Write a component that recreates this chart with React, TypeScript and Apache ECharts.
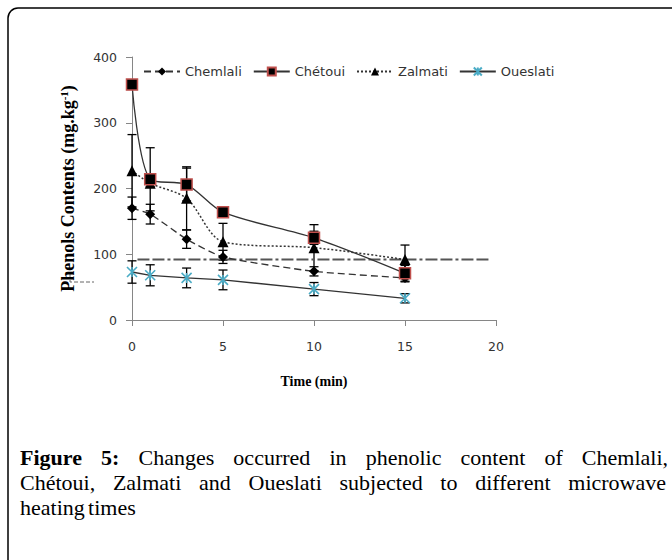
import React, { useEffect, useRef } from "react";
import * as echarts from "echarts";

const times = [0, 1, 3, 5, 10, 15];
const chemlali = [170, 161, 123, 96, 74, 64];
const chemlaliErr = [17, 15, 14, 10, 7, 6];
const chetoui = [358, 214, 206, 164, 125, 71];
const chetouiErr = [5, 48, 25, 5, 10, 12];
const zalmati = [227, 208, 185, 119, 110, 92];
const zalmatiErr = [55, 5, 48, 28, 35, 22];
const oueslati = [73, 68, 64, 61, 47, 33];
const oueslatiErr = [17, 16, 15, 15, 10, 7];
const trendLine = [[0.3, 92], [19.6, 92]];
const xTicks = { min: 0, max: 20, interval: 5 };
const yTicks = { min: 0, max: 400, interval: 100 };
const seriesNames = ["Chemlali", "Chétoui", "Zalmati", "Oueslati"];
const captionLines = [
  [["Figure", true], ["5:", true], ["Changes", false], ["occurred", false], ["in", false], ["phenolic", false], ["content", false], ["of", false], ["Chemlali,", false]],
  [["Chétoui,", false], ["Zalmati", false], ["and", false], ["Oueslati", false], ["subjected", false], ["to", false], ["different", false], ["microwave", false]],
  [["heating", false], ["times", false]],
];

const LINE = "#333";

function pts(vals: number[]) {
  return times.map((t, i) => [t, vals[i]]);
}
function errs(vals: number[], e: number[]) {
  return times.map((t, i) => [t, vals[i] - e[i], vals[i] + e[i]]);
}

function errorSeries(data: number[][]) {
  return {
    type: "custom",
    silent: true,
    z: 1,
    encode: { x: 0, y: [1, 2] },
    data,
    renderItem: (_p: any, api: any) => {
      const lo = api.coord([api.value(0), api.value(1)]);
      const hi = api.coord([api.value(0), api.value(2)]);
      const w = 4.5;
      const st = { stroke: "#000", lineWidth: 1.3 };
      return {
        type: "group",
        children: [
          { type: "line", shape: { x1: lo[0], y1: lo[1], x2: hi[0], y2: hi[1] }, style: st },
          { type: "line", shape: { x1: lo[0] - w, y1: lo[1], x2: lo[0] + w, y2: lo[1] }, style: st },
          { type: "line", shape: { x1: hi[0] - w, y1: hi[1], x2: hi[0] + w, y2: hi[1] }, style: st },
        ],
      };
    },
  };
}

function captionGraphics() {
  const canvas = document.createElement("canvas");
  const ctx = canvas.getContext("2d")!;
  const fs = 22;
  const fam = "Liberation Serif";
  const measure = (t: string, b: boolean) => {
    ctx.font = `${b ? "bold " : ""}${fs}px "${fam}"`;
    return ctx.measureText(t).width;
  };
  const left = 20;
  const rights = [668, 666, null];
  const ys = [457, 482, 507];
  const els: any[] = [];
  captionLines.forEach((words, li) => {
    const widths = words.map(([t, b]) => measure(t as string, b as boolean));
    const total = widths.reduce((a, b) => a + b, 0);
    const right = rights[li];
    const gap = right == null ? measure(" ", false) * 0.6 : (right - left - total) / (words.length - 1);
    let x = left;
    words.forEach(([t, b], wi) => {
      els.push({
        type: "text",
        x,
        y: ys[li],
        style: {
          text: t,
          fontSize: fs,
          fontFamily: fam,
          fontWeight: b ? "bold" : "normal",
          fill: "#000",
          verticalAlign: "middle",
        },
      });
      x += widths[wi] + gap;
    });
  });
  return els;
}

export default function App() {
  const ref = useRef<HTMLDivElement>(null);
  useEffect(() => {
    const chart = echarts.init(ref.current!, null, { renderer: "svg" });
    const sansFont = "DejaVu Sans";
    const option: any = {
      animation: false,
      backgroundColor: "#fff",
      grid: { left: 132, right: 176, top: 57, bottom: 240 },
      legend: {
        data: seriesNames,
        left: 138,
        top: 60,
        itemWidth: 36,
        itemHeight: 10,
        itemGap: 11,
        textStyle: { fontFamily: sansFont, fontSize: 13, color: "#333" },
      },
      xAxis: {
        type: "value",
        ...xTicks,
        name: "Time (min)",
        nameLocation: "middle",
        nameGap: 54,
        nameTextStyle: { fontFamily: "Liberation Serif", fontWeight: "bold", fontSize: 14, color: "#000" },
        splitLine: { show: false },
        axisLine: { lineStyle: { color: "#868686" } },
        axisTick: { length: 6, lineStyle: { color: "#868686" } },
        axisLabel: { margin: 20, fontFamily: sansFont, fontSize: 12.5, color: "#333" },
      },
      yAxis: {
        type: "value",
        ...yTicks,
        name: "{a|Phenols Contents (mg.kg}{s|-1}{a|)}",
        nameLocation: "middle",
        nameGap: 55,
        nameTextStyle: {
          rich: {
            a: { fontFamily: "Liberation Serif", fontWeight: "bold", fontSize: 18, color: "#000" },
            s: { fontFamily: "Liberation Serif", fontWeight: "bold", fontSize: 11, color: "#000", verticalAlign: "top", padding: [0, 0, 8, 0] },
          },
        },
        splitLine: { show: false },
        axisLine: { show: true, lineStyle: { color: "#868686" } },
        axisTick: { show: true, length: 6, lineStyle: { color: "#868686" } },
        axisLabel: { margin: 15, fontFamily: sansFont, fontSize: 12.5, color: "#333" },
      },
      series: [
        {
          type: "line",
          name: "trend",
          data: trendLine,
          symbol: "none",
          silent: true,
          z: 1,
          lineStyle: { color: "#555", width: 2, type: [12, 3, 12, 3, 3, 3] },
        },
        errorSeries(errs(chemlali, chemlaliErr)),
        errorSeries(errs(chetoui, chetouiErr)),
        errorSeries(errs(zalmati, zalmatiErr)),
        errorSeries(errs(oueslati, oueslatiErr)),
        {
          type: "line",
          name: "Chemlali",
          data: pts(chemlali),
          smooth: 0.2,
          symbol: "diamond",
          symbolSize: 10,
          itemStyle: { color: "#000" },
          lineStyle: { color: LINE, width: 1.3, type: [7, 4] },
          z: 3,
        },
        {
          type: "line",
          name: "Chétoui",
          data: pts(chetoui),
          smooth: 0.3,
          symbol: "rect",
          symbolSize: 11,
          itemStyle: { color: "#000", borderColor: "#c0504d", borderWidth: 1.5 },
          lineStyle: { color: LINE, width: 1.3, type: "solid" },
          z: 4,
        },
        {
          type: "line",
          name: "Zalmati",
          data: pts(zalmati),
          smooth: 0.3,
          symbol: "triangle",
          symbolSize: 11,
          itemStyle: { color: "#000" },
          lineStyle: { color: LINE, width: 1.5, type: [2, 2] },
          z: 3,
        },
        {
          type: "line",
          name: "Oueslati",
          data: pts(oueslati),
          symbol: "path://M0,0L10,10M10,0L0,10M5,0L5,10",
          symbolSize: 10,
          itemStyle: { color: "#4bacc6", borderColor: "#4bacc6", borderWidth: 1.6 },
          lineStyle: { color: LINE, width: 1.3, type: "solid" },
          z: 3,
        },
      ],
      graphic: [
        {
          type: "rect",
          shape: { x: 8, y: 8, width: 720, height: 620, r: 10 },
          style: { fill: "none", stroke: "#000", lineWidth: 1.5 },
          silent: true,
        },
        {
          type: "polyline",
          shape: { points: [[70, 274], [70, 282], [94, 282]] },
          style: { stroke: "#666", lineWidth: 1, fill: "none", lineDash: [4, 2] },
          silent: true,
        },
        ...captionGraphics(),
      ],
    };
    chart.setOption(option);
    return () => chart.dispose();
  }, []);
  return (
    <div
      ref={ref}
      style={{ position: "absolute", left: 0, top: 0, width: 672, height: 560, background: "#fff" }}
    />
  );
}
